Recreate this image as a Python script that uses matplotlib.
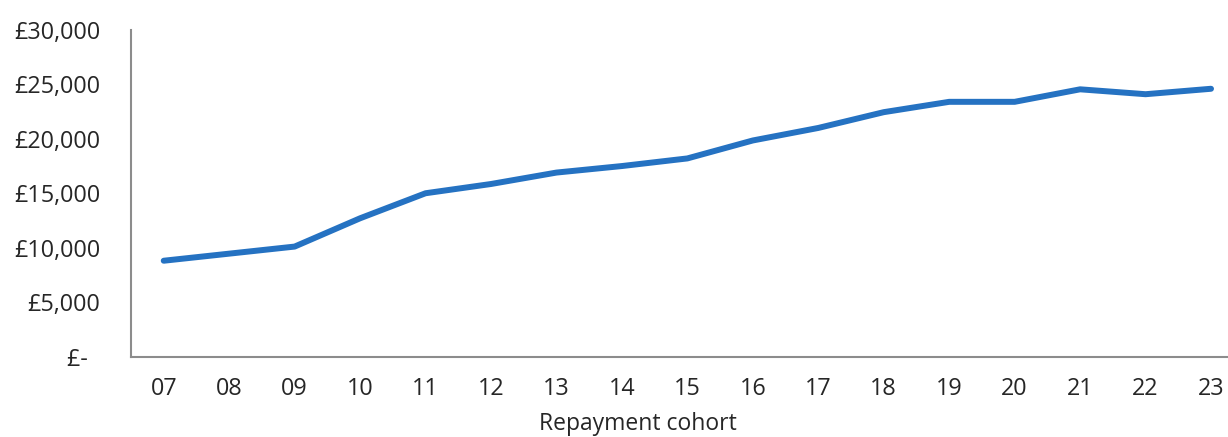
import matplotlib
matplotlib.use("Agg")
import matplotlib.pyplot as plt
from matplotlib.ticker import FuncFormatter

cohorts = ["07", "08", "09", "10", "11", "12", "13", "14", "15", "16",
           "17", "18", "19", "20", "21", "22", "23"]
values = [8800, 9450, 10100, 12700, 15000, 15850, 16900, 17500, 18200, 19850,
          21000, 22450, 23400, 23400, 24550, 24100, 24600]
y_ticks = [0, 5000, 10000, 15000, 20000, 25000, 30000]

plt.rcParams['font.family'] = ['Open Sans', 'DejaVu Sans']

fig = plt.figure(figsize=(12.28, 4.37), dpi=100)
ax = fig.add_axes([131/1228, 1 - 356.5/437, (1228-131)/1228, (356.5-30)/437])

x = list(range(len(cohorts)))
ax.plot(x, values, color='#2572c2', linewidth=4.3, solid_capstyle='round', solid_joinstyle='round')

ax.set_xlim(-0.5, 16 + (1228-1211)/65.5)
ax.set_ylim(0, 30000)
ax.set_xticks(x)
ax.set_xticklabels(cohorts)
ax.set_yticks(y_ticks)

def fmt(v, pos):
    if v == 0:
        return "£-  "
    return "£{:,.0f}".format(v)
ax.yaxis.set_major_formatter(FuncFormatter(fmt))

for s in ['top', 'right']:
    ax.spines[s].set_visible(False)
for s in ['left', 'bottom']:
    ax.spines[s].set_color('#8c8c8c')
    ax.spines[s].set_linewidth(1.5)

ax.tick_params(axis='both', length=0, labelsize=16.8, colors='#262626')
ax.tick_params(axis='y', pad=22)
ax.tick_params(axis='x', pad=15)
ax.set_xlabel("Repayment cohort", fontsize=16.5, color='#262626', labelpad=8)
ax.xaxis.label.set_x((638 - 131) / 1097)

fig.savefig("out.png", dpi=100)
